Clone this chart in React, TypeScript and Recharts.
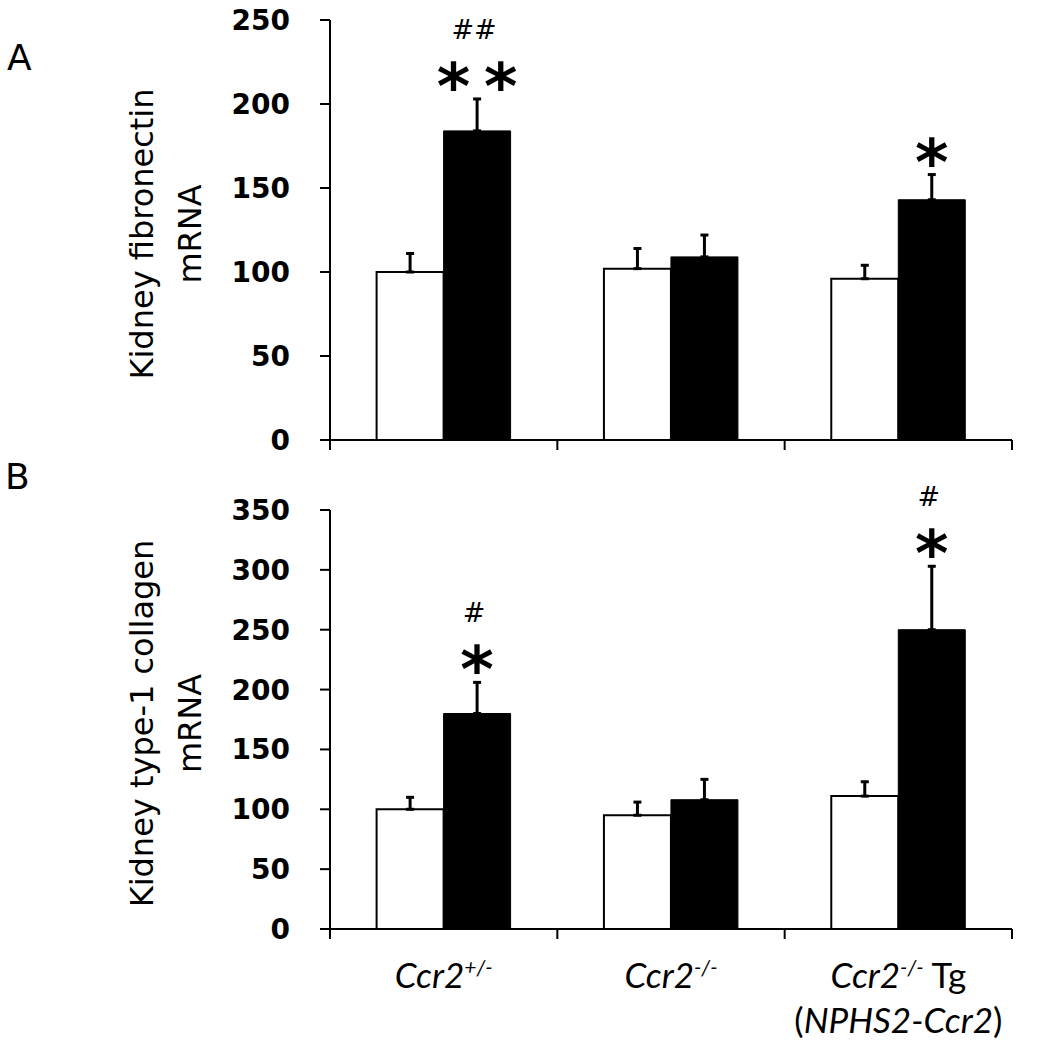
import React from 'react';
import { BarChart, Bar, XAxis, YAxis, ErrorBar, LabelList } from 'recharts';

// ---------- data ----------
const categories = ['Ccr2+/-', 'Ccr2-/-', 'Ccr2-/- Tg\n(NPHS2-Ccr2)'];

// Panel A – kidney fibronectin mRNA
const fibronectinWhite = [100, 102, 96];
const fibronectinWhiteErr = [11, 12, 8];
const fibronectinBlack = [184, 109, 143];
const fibronectinBlackErr = [19, 13, 15];
const fibronectinStars = ['**', '', '*'];
const fibronectinHashes = ['##', '', ''];
const fibronectinTicks = [0, 50, 100, 150, 200, 250];
const fibronectinTitle = ['Kidney fibronectin', 'mRNA'];

// Panel B – kidney type-1 collagen mRNA
const collagenWhite = [100, 95, 111];
const collagenWhiteErr = [10, 11, 12];
const collagenBlack = [180, 108, 250];
const collagenBlackErr = [26, 17, 53];
const collagenStars = ['*', '', '*'];
const collagenHashes = ['#', '', '#'];
const collagenTicks = [0, 50, 100, 150, 200, 250, 300, 350];
const collagenTitle = ['Kidney type-1 collagen', 'mRNA'];

const panelLetters = ['A', 'B'];

// ---------- helpers ----------
const buildData = (w: number[], we: number[], b: number[], be: number[], stars: string[], hashes: string[]) =>
  categories.map((name, i) => ({
    name,
    white: w[i],
    whiteErr: [0, we[i]],
    black: b[i],
    blackErr: [0, be[i]],
    star: stars[i],
    hash: hashes[i],
  }));

const dataA = buildData(fibronectinWhite, fibronectinWhiteErr, fibronectinBlack, fibronectinBlackErr, fibronectinStars, fibronectinHashes);
const dataB = buildData(collagenWhite, collagenWhiteErr, collagenBlack, collagenBlackErr, collagenStars, collagenHashes);

const makeAnnot = (vals: number[], errs: number[], stars: string[], hashes: string[]) => (props: any) => {
  const { x, y, width, height, index } = props;
  const star = stars[index];
  const hash = hashes[index];
  if (!star && !hash) return null;
  const ppu = Number(height) / vals[index];
  const errTop = Number(y) - errs[index] * ppu;
  const cx = Number(x) + Number(width) / 2;
  const spacing = star && star.length > 1 ? 14 : 0;
  return (
    <g>
      {star ? (
        <text
          x={cx + spacing / 2}
          y={errTop + 10}
          textAnchor="middle"
          fontFamily="DejaVu Sans"
          fontWeight="bold"
          fontSize={64}
          letterSpacing={spacing}
          fill="#000"
        >
          {star}
        </text>
      ) : null}
      {hash ? (
        <text x={cx - 3} y={errTop - 60} textAnchor="middle" fontFamily="DejaVu Sans" fontSize={27} fill="#000">
          {hash}
        </text>
      ) : null}
    </g>
  );
};

const makeYTitle = (lines: string[]) => (props: any) => {
  const vb = props.viewBox || { x: 0, y: 0, width: 330, height: 420 };
  const cy = vb.y + vb.height / 2 + 4;
  const xs = [153, 201];
  return (
    <g>
      {lines.map((l, i) => (
        <text
          key={i}
          transform={`translate(${xs[i]}, ${cy}) rotate(-90)`}
          textAnchor="middle"
          fontFamily="DejaVu Sans"
          fontSize={32}
          fill="#000"
        >
          {l}
        </text>
      ))}
    </g>
  );
};

const PLOT_LEFT = 330;
const PLOT_RIGHT = 1012;

const makeXTick = (showLabels: boolean) => (props: any) => {
  const { x, y, payload, index, visibleTicksCount } = props;
  const half = payload && typeof payload.offset === 'number' && payload.offset > 0
    ? payload.offset
    : (PLOT_RIGHT - PLOT_LEFT) / categories.length / 2;
  const last = index === (visibleTicksCount ?? categories.length) - 1;
  const label: string = String(payload.value);
  const [line1, line2] = label.split('\n');
  const m = line1.match(/^(Ccr2)([+\-]\/-)(.*)$/);
  const fontFamily = 'Lato';
  return (
    <g>
      <line x1={x - half} x2={x - half} y1={y} y2={y + 10} stroke="#000" strokeWidth={2} />
      {last ? <line x1={x + half} x2={x + half} y1={y} y2={y + 10} stroke="#000" strokeWidth={2} /> : null}
      {showLabels ? (
        <text x={x} y={y + 59} textAnchor="middle" fontFamily={fontFamily} fontSize={35} fontStyle="italic" fill="#000">
          {m ? (
            <>
              <tspan>{m[1]}</tspan>
              <tspan fontSize={21} dy={-13}>{m[2]}</tspan>
              <tspan dy={13} fontStyle="normal">{m[3]}</tspan>
            </>
          ) : (
            line1
          )}
        </text>
      ) : null}
      {showLabels && line2 ? (
        <text x={x} y={y + 104} textAnchor="middle" fontFamily={fontFamily} fontSize={35} fill="#000">
          <tspan fontStyle="normal">(</tspan>
          <tspan fontStyle="italic">{line2.replace(/[()]/g, '')}</tspan>
          <tspan fontStyle="normal">)</tspan>
        </text>
      ) : null}
    </g>
  );
};

const tickStyle = { fontFamily: 'DejaVu Sans', fontWeight: 'bold', fontSize: 28, fill: '#000' } as any;

type PanelProps = {
  data: any[];
  height: number;
  top: number;
  ticks: number[];
  title: string[];
  showLabels: boolean;
  xHeight: number;
  white: number[];
  whiteErr: number[];
  black: number[];
  blackErr: number[];
  stars: string[];
  hashes: string[];
};

const Panel = (p: PanelProps) => (
  <BarChart
    width={1037}
    height={p.height}
    data={p.data}
    margin={{ top: p.top, right: 1037 - PLOT_RIGHT, bottom: 0, left: 0 }}
    barGap={0}
    barCategoryGap="20.5%"
  >
    <XAxis
      dataKey="name"
      height={p.xHeight}
      axisLine={{ stroke: '#000', strokeWidth: 2 }}
      tickLine={false}
      tickSize={0}
      tickMargin={0}
      interval={0}
      tick={makeXTick(p.showLabels)}
    />
    <YAxis
      width={PLOT_LEFT}
      domain={[p.ticks[0], p.ticks[p.ticks.length - 1]]}
      ticks={p.ticks}
      interval={0}
      axisLine={{ stroke: '#000', strokeWidth: 2 }}
      tickLine={{ stroke: '#000', strokeWidth: 2 }}
      tickSize={10}
      tickMargin={30}
      tick={tickStyle}
      label={makeYTitle(p.title)}
    />
    <Bar dataKey="white" fill="#fff" stroke="#000" strokeWidth={2} isAnimationActive={false}>
      <ErrorBar dataKey="whiteErr" direction="y" width={4} strokeWidth={3} stroke="#000" />
    </Bar>
    <Bar dataKey="black" fill="#000" stroke="#000" strokeWidth={1} isAnimationActive={false}>
      <ErrorBar dataKey="blackErr" direction="y" width={4} strokeWidth={3} stroke="#000" />
      <LabelList dataKey="star" content={makeAnnot(p.black, p.blackErr, p.stars, p.hashes)} />
    </Bar>
  </BarChart>
);

export default function App() {
  return (
    <div style={{ position: 'absolute', left: 0, top: 0, width: 1037, height: 1050, background: '#fff', overflow: 'hidden' }}>
      <div style={{ position: 'absolute', left: 0, top: 0 }}>
        <Panel
          data={dataA}
          height={470}
          top={20}
          ticks={fibronectinTicks}
          title={fibronectinTitle}
          showLabels={false}
          xHeight={30}
          white={fibronectinWhite}
          whiteErr={fibronectinWhiteErr}
          black={fibronectinBlack}
          blackErr={fibronectinBlackErr}
          stars={fibronectinStars}
          hashes={fibronectinHashes}
        />
      </div>
      <div style={{ position: 'absolute', left: 0, top: 470 }}>
        <Panel
          data={dataB}
          height={580}
          top={40}
          ticks={collagenTicks}
          title={collagenTitle}
          showLabels={true}
          xHeight={121}
          white={collagenWhite}
          whiteErr={collagenWhiteErr}
          black={collagenBlack}
          blackErr={collagenBlackErr}
          stars={collagenStars}
          hashes={collagenHashes}
        />
      </div>
      <svg width={1037} height={1050} style={{ position: 'absolute', left: 0, top: 0, pointerEvents: 'none' }}>
        <text x={7} y={70} fontFamily="DejaVu Sans" fontSize={36} fill="#000">{panelLetters[0]}</text>
        <text x={5} y={489} fontFamily="DejaVu Sans" fontSize={36} fill="#000">{panelLetters[1]}</text>
      </svg>
    </div>
  );
}
